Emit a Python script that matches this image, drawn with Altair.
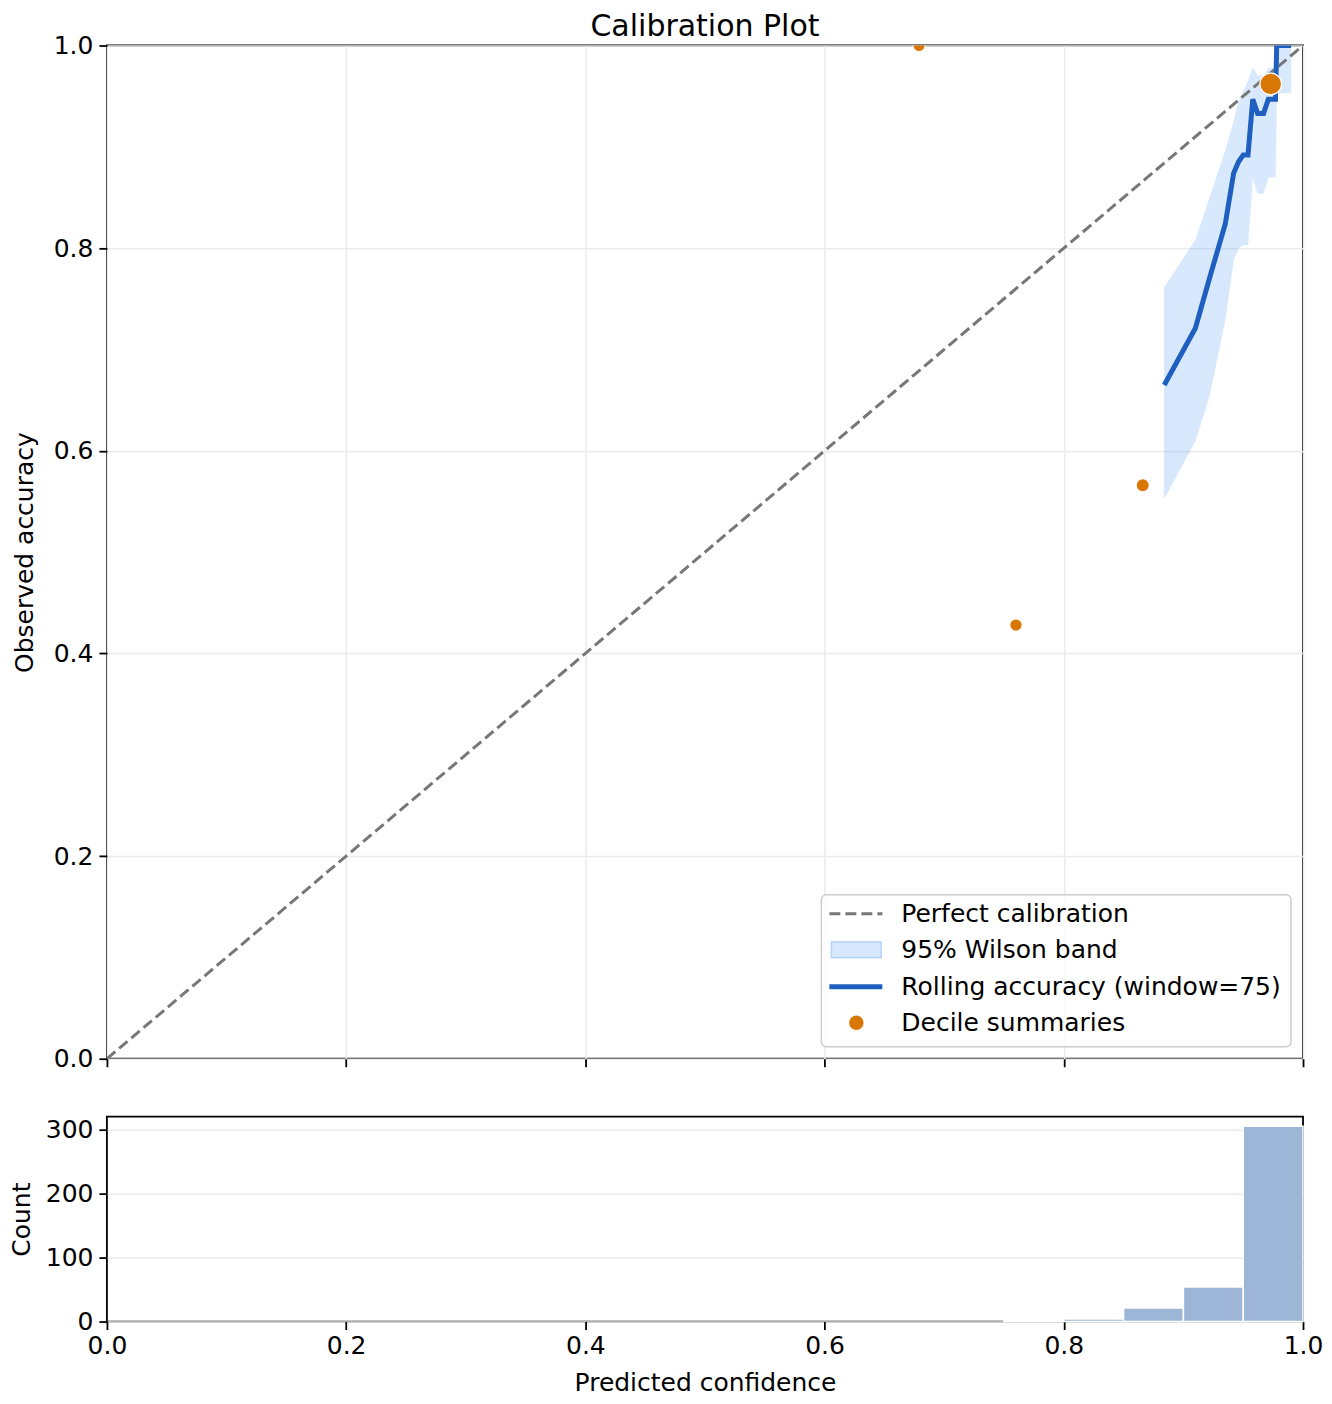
import altair as alt
import pandas as pd

# ---------------- data ----------------
diag_x = [0.0, 1.0]
diag_y = [0.0, 1.0]

roll_x = [0.884, 0.910, 0.922, 0.935, 0.942, 0.946, 0.950, 0.954, 0.958, 0.962, 0.967, 0.971, 0.977, 0.978, 0.990]
roll_acc = [0.665, 0.721, 0.771, 0.824, 0.874, 0.885, 0.892, 0.892, 0.947, 0.933, 0.933, 0.947, 0.947, 1.0, 1.0]
band_lo = [0.553, 0.610, 0.655, 0.730, 0.788, 0.800, 0.803, 0.803, 0.870, 0.854, 0.854, 0.870, 0.870, 0.953, 0.953]
band_hi = [0.761, 0.808, 0.850, 0.896, 0.925, 0.944, 0.955, 0.965, 0.978, 0.970, 0.970, 0.978, 0.978, 1.0, 1.0]

dec_conf = [0.679, 0.760, 0.866, 0.973]
dec_acc = [1.0, 0.428, 0.566, 0.962]
dec_n = [1, 7, 25, 359]

bin_start = [0.75, 0.80, 0.85, 0.90, 0.95]
bin_end = [0.80, 0.85, 0.90, 0.95, 1.00]
bin_count = [2, 4, 21, 54, 305]

legend_labels = ["Perfect calibration", "95% Wilson band", "Rolling accuracy (window=75)", "Decile summaries"]

FONT = "DejaVu Sans"
GRID = "#ebebeb"
ORANGE = "#d97706"
BLUE = "#1f5fbf"
BAND = "#3d8bf2"
GREY = "#777777"

W = 1197
H = 1014
H2 = 205

diag_df = pd.DataFrame({"x": diag_x, "y": diag_y})
roll_df = pd.DataFrame({"x": roll_x, "acc": roll_acc, "lo": band_lo, "hi": band_hi})
dec_df = pd.DataFrame({"x": dec_conf, "y": dec_acc, "n": dec_n})
hist_df = pd.DataFrame({"b0": bin_start, "b1": bin_end, "count": bin_count})
leg_df = pd.DataFrame({"label": legend_labels})

ticks01 = [0, 0.2, 0.4, 0.6, 0.8, 1.0]

xs_main = alt.Scale(domain=[0, 1], nice=False, zero=False)
ys_main = alt.Scale(domain=[0, 1], nice=False, zero=False)

x_axis_main = alt.Axis(values=ticks01, labels=False, title=None, grid=True, gridColor=GRID,
                       gridWidth=1.5, ticks=True, tickSize=8, tickWidth=1.8, tickColor="black",
                       domain=False, labelFlush=False)
y_axis_main = alt.Axis(values=ticks01, format=".1f", title="Observed accuracy", grid=True,
                       gridColor=GRID, gridWidth=1.5, tickSize=8, tickWidth=1.8, tickColor="black",
                       domain=False, labelFontSize=25, titleFontSize=25, labelFont=FONT, titleFont=FONT,
                       titleFontWeight="normal", labelPadding=6, titlePadding=16, labelColor="black",
                       titleColor="black", labelFlush=False)

band = alt.Chart(roll_df).mark_area(color=BAND, opacity=0.2, clip=True, stroke=BAND,
                                    strokeOpacity=0.25, strokeWidth=1.5).encode(
    x=alt.X("x:Q", scale=xs_main, axis=x_axis_main),
    y=alt.Y("lo:Q", scale=ys_main, axis=y_axis_main),
    y2="hi:Q",
)

diag = alt.Chart(diag_df).mark_line(color=GREY, strokeWidth=3, strokeDash=[11, 5], clip=True).encode(
    x=alt.X("x:Q", scale=xs_main),
    y=alt.Y("y:Q", scale=ys_main),
)

roll = alt.Chart(roll_df).mark_line(color=BLUE, strokeWidth=5, clip=True).encode(
    x=alt.X("x:Q", scale=xs_main),
    y=alt.Y("acc:Q", scale=ys_main),
)

dec = alt.Chart(dec_df).mark_circle(color=ORANGE, opacity=1, stroke="white", strokeWidth=1.2,
                                    clip=True).encode(
    x=alt.X("x:Q", scale=xs_main),
    y=alt.Y("y:Q", scale=ys_main),
    size=alt.Size("n:Q", scale=alt.Scale(domain=[0, 359], range=[150, 470]), legend=None),
)

# ---- manual legend (lower right, inside plot) ----
LX0, LX1, LY0, LY1 = 715, 1185, 850, 1002
rows = [869, 905, 942, 978]
leg_box = alt.Chart(leg_df.head(1)).mark_rect(fill="white", fillOpacity=0.85, stroke="#cccccc",
                                               strokeWidth=1.5, cornerRadius=5).encode(
    x=alt.value(LX0), x2=alt.value(LX1), y=alt.value(LY0), y2=alt.value(LY1))
leg_dash = alt.Chart(leg_df.head(1)).mark_rule(color=GREY, strokeWidth=3, strokeDash=[11, 5]).encode(
    x=alt.value(723), x2=alt.value(776), y=alt.value(rows[0]))
leg_band = alt.Chart(leg_df.head(1)).mark_rect(fill=BAND, fillOpacity=0.2, stroke=BAND,
                                                strokeOpacity=0.3, strokeWidth=1.5).encode(
    x=alt.value(725), x2=alt.value(775), y=alt.value(rows[1] - 8), y2=alt.value(rows[1] + 8))
leg_line = alt.Chart(leg_df.head(1)).mark_rule(color=BLUE, strokeWidth=5).encode(
    x=alt.value(723), x2=alt.value(776), y=alt.value(rows[2]))
leg_pt = alt.Chart(leg_df.head(1)).mark_circle(color=ORANGE, opacity=1, size=210).encode(
    x=alt.value(750), y=alt.value(rows[3]))
leg_texts = []
for i, lab in enumerate(legend_labels):
    leg_texts.append(
        alt.Chart(leg_df.iloc[[i]]).mark_text(align="left", baseline="middle", fontSize=25,
                                              font=FONT, color="black").encode(
            x=alt.value(795), y=alt.value(rows[i]), text="label:N"))

main = alt.layer(band, diag, roll, dec, leg_box, leg_dash, leg_band, leg_line, leg_pt, *leg_texts).properties(
    width=W, height=H,
    title=alt.Title("Calibration Plot", fontSize=30, font=FONT, fontWeight="normal", color="black",
                    offset=-8, anchor="middle"),
)

# ---------------- histogram ----------------
hist = alt.Chart(hist_df).mark_rect(color="#9db5d6", stroke="white", strokeWidth=1.5).encode(
    x=alt.X("b0:Q", scale=alt.Scale(domain=[0, 1], nice=False, zero=False),
            axis=alt.Axis(values=ticks01, format=".1f", title="Predicted confidence", grid=False,
                          tickSize=8, tickWidth=1.8, tickColor="black", domain=False,
                          labelFontSize=25, titleFontSize=25, labelFont=FONT, titleFont=FONT,
                          titleFontWeight="normal", labelPadding=4, titlePadding=12,
                          labelColor="black", titleColor="black", labelFlush=False)),
    x2="b1:Q",
    y=alt.Y("count:Q", scale=alt.Scale(domain=[0, 320], nice=False),
            axis=alt.Axis(values=[0, 100, 200, 300], title="Count", grid=True, gridColor=GRID,
                          gridWidth=1.5, tickSize=8, tickWidth=1.8, tickColor="black", domain=False,
                          labelFontSize=25, titleFontSize=25, labelFont=FONT, titleFont=FONT,
                          titleFontWeight="normal", labelPadding=6, titlePadding=11,
                          labelColor="black", titleColor="black", labelFlush=False)),
    y2=alt.datum(0),
).properties(width=W, height=H2)

chart = alt.vconcat(main, hist, spacing=43).configure_view(
    stroke="black", strokeWidth=1.8
).properties(padding={"left": 0, "top": 2, "right": 0, "bottom": 0})

chart.save("out.html", embed_options={"renderer": "svg", "actions": False})
